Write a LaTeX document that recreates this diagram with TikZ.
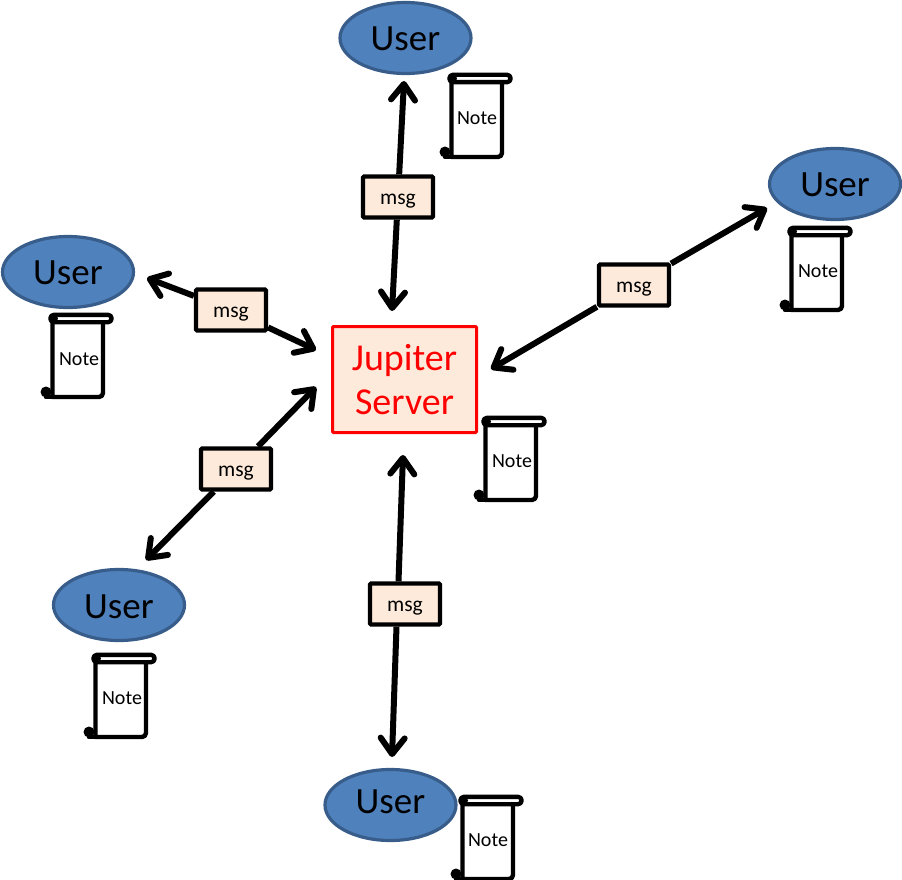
\documentclass[tikz,border=0pt]{standalone}
\usepackage{fontspec}
\setmainfont{Carlito}
\usetikzlibrary{arrows.meta,shapes.geometric}
\definecolor{userfill}{HTML}{4F81BD}
\definecolor{userline}{HTML}{385D8A}
\definecolor{msgfill}{HTML}{FDEADA}
\tikzset{
  usernode/.style={ellipse,draw=userline,line width=3.2pt,fill=userfill,minimum width=131pt,minimum height=71pt,inner sep=0pt,font=\fontsize{37}{37}\selectfont,text=black,text depth=4pt,text height=#1},
  msgnode/.style={rectangle,draw=black,line width=4.2pt,rounded corners=1pt,fill=msgfill,minimum width=70pt,minimum height=41pt,inner sep=0pt,font=\fontsize{21.5}{21.5}\selectfont,text depth=4pt,text height=18pt},
  servernode/.style={rectangle,draw=red,line width=3pt,rounded corners=1pt,fill=msgfill,minimum width=144pt,minimum height=106pt,inner sep=0pt,align=center,text=red,font=\fontsize{38}{44}\selectfont},
  notetext/.style={inner sep=0pt,font=\fontsize{20}{20}\selectfont},
  link/.style={line width=6pt,draw=black,-{Straight Barb[length=16pt,width=24pt,line width=6pt,round]}},
  scroll/.style={draw=black,line width=4.4pt,line join=round,line cap=round},
  pics/notescroll/.style={code={
    \draw[scroll,fill=white] (2.5,8) -- (2.5,83) -- (49,83) arc[start angle=-90,end angle=0,radius=4pt] -- (53,8);
    \draw[scroll,fill=white] (4,0.8) -- (58,0.8) arc[start angle=90,end angle=-90,radius=3.7pt] -- (4,8.2) arc[start angle=270,end angle=90,radius=3.7pt] -- cycle;
    \fill[black] (4,4.5) circle[radius=4pt];
    \fill[black] (-4,78) circle[radius=5.5pt];
    \draw[scroll] (-4,83) -- (2.5,83);
  }}
}
\begin{document}
\begin{tikzpicture}[x=1pt,y=-1pt]
\useasboundingbox (0,0) rectangle (902,880);
% users
\node[usernode=30pt] (u1) at (405.5,38) {User};
\node[usernode=29pt] (u2) at (835,184) {User};
\node[usernode=28pt] (u3) at (68,272) {User};
\node[usernode=30pt] (u4) at (119,605) {User};
\node[usernode=20pt] (u5) at (390.5,805) {User};
% server
\node[servernode] (srv) at (404.5,379.5) {Jupiter\\Server};
% messages
\node[msgnode] (m1) at (398,197) {msg};
\node[msgnode] (m2) at (634,285) {msg};
\node[msgnode] (m3) at (231,310) {msg};
\node[msgnode] (m4) at (236,469) {msg};
\node[msgnode] (m5) at (405,604) {msg};
% free arrow ends
\coordinate (a1u) at (404,81);
\coordinate (a1s) at (392,311);
\coordinate (a2u) at (767,208);
\coordinate (a2s) at (491,369);
\coordinate (a3u) at (147,278);
\coordinate (a3s) at (316,350);
\coordinate (a4u) at (146,560);
\coordinate (a4s) at (316,387);
\coordinate (a5u) at (392,757);
\coordinate (a5s) at (403,455);
\draw[link] (m1) -- (a1u);
\draw[link] (m1) -- (a1s);
\draw[link] (m2) -- (a2u);
\draw[link] (m2) -- (a2s);
\draw[link] (m3) -- (a3u);
\draw[link] (m3) -- (a3s);
\draw[link] (m4) -- (a4u);
\draw[link] (m4) -- (a4s);
\draw[link] ([xshift=-8.5pt]m5.south) -- (a5u);
\draw[link] ([xshift=-6.5pt]m5.north) -- (a5s);
% notes
\pic at (449,74) {notescroll};
\pic at (789,227) {notescroll};
\pic at (50,314) {notescroll};
\pic at (93,654) {notescroll};
\pic at (483,417) {notescroll};
\pic at (460,796) {notescroll};
\node[notetext] (n1) at (477,118) {Note};
\node[notetext] (n2) at (818,271) {Note};
\node[notetext] (n3) at (79,359) {Note};
\node[notetext] (n4) at (122,698) {Note};
\node[notetext] (n5) at (512,461) {Note};
\node[notetext] (n6) at (488,840) {Note};
\end{tikzpicture}
\end{document}
